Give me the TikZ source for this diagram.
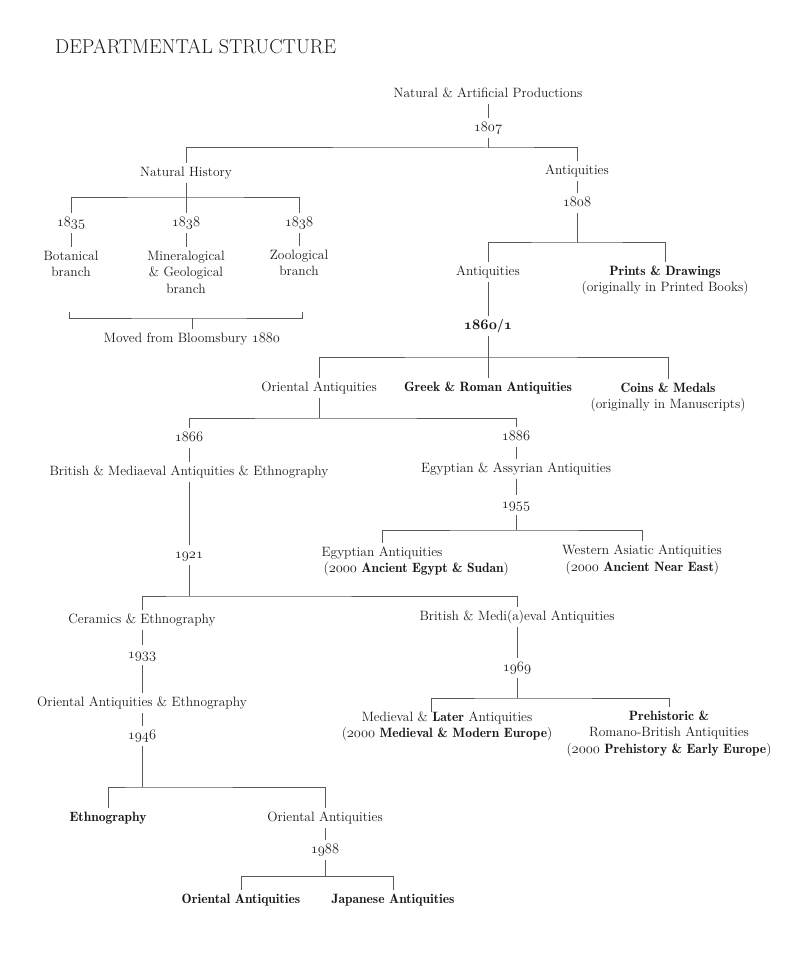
\documentclass[tikz,border=0pt]{standalone}
\usepackage{tikz}
\usetikzlibrary{positioning}
\newcommand{\dfont}{\fontsize{13.5}{16.5}\selectfont}
\newcommand{\yr}[1]{\ensuremath{\mathnormal{#1}}}
\newcommand{\sbf}[1]{{\fontseries{b}\selectfont\boldmath#1}}
\tikzset{
	dept/.style={inner sep=3.5pt, text height=10pt, text depth=3.5pt, font=\dfont, text=black!90},
	deptb/.style={dept, font=\dfont\fontseries{b}\selectfont\boldmath},
	deptm/.style={inner sep=3.5pt, align=center, anchor=north, font=\dfont, text=black!90},
	link/.style={draw=black!65, line width=1pt},
}

\begin{document}
\begin{tikzpicture}[x=1pt, y=-1pt]
		\useasboundingbox (0,0) rectangle (808,957);
		\node[anchor=west, inner sep=0pt, font=\fontsize{20}{24}\selectfont, text=black!90] (title) at (55,47) {DEPARTMENTAL STRUCTURE};

		%top of the tree
		\node[dept] (nap) at (488,94) {Natural \& Artificial Productions};
		\node[dept] (y1807) at (488,128) {\yr{1807}};
		\node[dept] (nh) at (186,173) {Natural History};
		\node[dept] (ant1) at (577,171) {Antiquities};
		\node[dept] (y1808) at (577,203) {\yr{1808}};

		%natural history
		\node[dept] (y1835) at (71,223) {\yr{1835}};
		\node[dept] (y1838a) at (186,223) {\yr{1838}};
		\node[dept] (y1838b) at (299,223) {\yr{1838}};
		\node[deptm] (bot) at (71,247) {Botanical\\branch};
		\node[deptm] (min) at (186,247) {Mineralogical\\\& Geological\\branch};
		\node[deptm] (zoo) at (299,246) {Zoological\\branch};
		\node[dept] (moved) at (192,339) {Moved from Bloomsbury \yr{1880}};

		%antiquities
		\node[dept] (ant2) at (488,272) {Antiquities};
		\node[deptm] (pd) at (665,262) {\sbf{Prints \& Drawings}\\(originally in Printed Books)};
		\node[deptb] (y1860) at (488,326) {\yr{1860}/\yr{1}};
		\node[dept] (oa1) at (319,388) {Oriental Antiquities};
		\node[deptb] (gr) at (488,388) {Greek \& Roman Antiquities};
		\node[deptm] (cm) at (668,379) {\sbf{Coins \& Medals}\\(originally in Manuscripts)};
		\node[dept] (y1866) at (189,438) {\yr{1866}};
		\node[dept] (y1886) at (516,437) {\yr{1886}};
		\node[dept] (bme) at (189,472) {British \& Mediaeval Antiquities \& Ethnography};
		\node[dept] (eaa) at (516,469) {Egyptian \& Assyrian Antiquities};
		\node[dept] (y1955) at (516,505) {\yr{1955}};
		\node[dept] (ea) at (382,553) {Egyptian Antiquities};
		\node[dept, anchor=west] (ea2) at (320,569) {(\yr{2000} \sbf{Ancient Egypt \& Sudan})};
		\node[dept] (waa) at (642,551) {Western Asiatic Antiquities};
		\node[dept, anchor=west] (waa2) at (562,568) {(\yr{2000} \sbf{Ancient Near East})};
		\node[dept] (y1921) at (189,555) {\yr{1921}};
		\node[dept] (ce) at (142,620) {Ceramics \& Ethnography};
		\node[dept] (bma) at (517,617) {British \& Medi(a)eval Antiquities};

		%left branch
		\node[dept] (y1933) at (142,655) {\yr{1933}};
		\node[dept] (oae) at (142,703) {Oriental Antiquities \& Ethnography};
		\node[dept] (y1946) at (142,736) {\yr{1946}};
		\node[deptb] (eth) at (108,818) {Ethnography};
		\node[dept] (oa2) at (325,818) {Oriental Antiquities};
		\node[dept] (y1988) at (325,850) {\yr{1988}};
		\node[deptb] (oa3) at (241,900) {Oriental Antiquities};
		\node[deptb] (ja) at (393,900) {Japanese Antiquities};

		%right branch
		\node[dept] (y1969) at (517,668) {\yr{1969}};
		\node[deptm] (ml) at (447,708) {Medieval \& \sbf{Later} Antiquities\\(\yr{2000} \sbf{Medieval \& Modern Europe})};
		\node[deptm] (pr) at (669,707) {\sbf{Prehistoric \&}\\Romano-British Antiquities\\(\yr{2000} \sbf{Prehistory \& Early Europe})};

		%junctions
		\coordinate (j1807) at (488,148);
		\coordinate (jnh) at (186,198);
		\coordinate (j1808) at (577,243);
		\coordinate (j1860) at (488,357);
		\coordinate (joa) at (319,418);
		\coordinate (j1955) at (516,530);
		\coordinate (j1921) at (189,596);
		\coordinate (j1946) at (142,787);
		\coordinate (j1988) at (325,876);
		\coordinate (j1969) at (517,698);
		\coordinate (jmv) at (192,318);
		\coordinate (brL) at (69,312);
		\coordinate (brR) at (302,312);

		%stems
		\draw[link] (nap) -- (y1807);
		\draw[link] (y1807) -- (j1807);
		\draw[link] (ant1) -- (y1808);
		\draw[link] (y1808) -- (j1808);
		\draw[link] (nh) -- (y1838a);
		\draw[link] (y1835) -- (bot);
		\draw[link] (y1838a) -- (min);
		\draw[link] (y1838b) -- (zoo);
		\draw[link] (jmv) -- (moved);
		\draw[link] (ant2) -- (y1860);
		\draw[link] (y1860) -- (gr);
		\draw[link] (oa1.south) -- (joa);
		\draw[link] (y1866) -- (bme);
		\draw[link] (y1886) -- (eaa);
		\draw[link] (eaa) -- (y1955);
		\draw[link] (y1955.south) -- (j1955);
		\draw[link] (bme) -- (y1921);
		\draw[link] (y1921.south) -- (j1921);
		\draw[link] (ce) -- (y1933);
		\draw[link] (y1933) -- (oae);
		\draw[link] (oae) -- (y1946);
		\draw[link] (y1946.south) -- (j1946);
		\draw[link] (oa2) -- (y1988);
		\draw[link] (y1988.south) -- (j1988);
		\draw[link] (bma) -- (y1969);
		\draw[link] (y1969.south) -- (j1969);

		%forks
		\draw[link] (nh.north) |- (j1807) -| (ant1.north);
		\draw[link] (y1835.north) |- (jnh) -| (y1838b.north);
		\draw[link] (brL) |- (jmv) -| (brR);
		\draw[link] (ant2.north) |- (j1808) -| (pd.north);
		\draw[link] (oa1.north) |- (j1860) -| (cm.north);
		\draw[link] (y1866.north) |- (joa) -| (y1886.north);
		\draw[link] (ea.north) |- (j1955) -| (waa.north);
		\draw[link] (ce.north) |- (j1921) -| (bma.north);
		\draw[link] (eth.north) |- (j1946) -| (oa2.north);
		\draw[link] (oa3.north) |- (j1988) -| (ja.north);
		\draw[link] ([xshift=-16pt,yshift=-4pt]ml.north) |- (j1969) -| (pr.north);
\end{tikzpicture}
\end{document}
